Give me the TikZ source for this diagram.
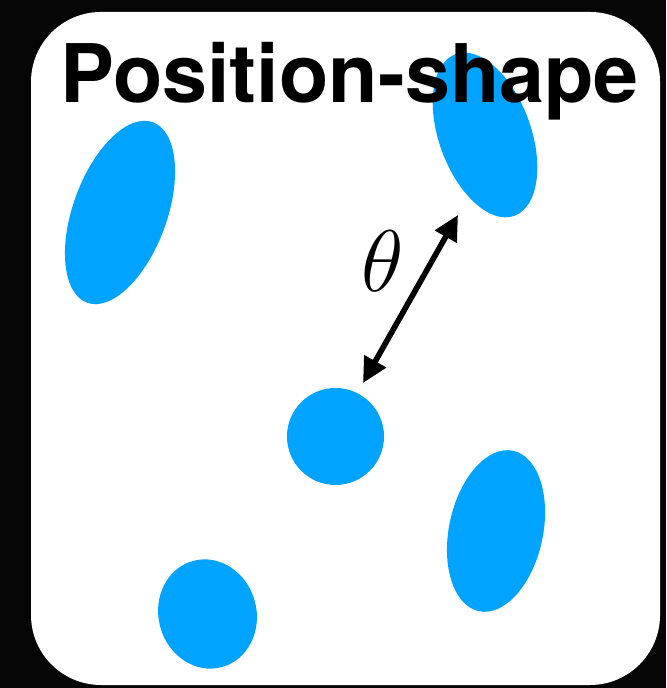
\documentclass[tikz,border=0pt]{standalone}
\usepackage{fontspec}
\setsansfont{TeX Gyre Heros}
\usetikzlibrary{arrows.meta, positioning, shapes.geometric}
\definecolor{cblue}{HTML}{00A3FF}
\definecolor{cnight}{HTML}{050505}
\tikzset{
  every picture/.style={font=\sffamily},
  panel/.style={fill=white, rounded corners=0.7cm},
  blob/.style={ellipse, fill=cblue, inner sep=0pt},
  title/.style={font=\sffamily\bfseries\fontsize{23}{27}\selectfont, inner sep=0pt},
  arrow/.style={{Triangle[length=0.25cm, width=0.24cm]}-{Triangle[length=0.25cm, width=0.24cm]}, line width=1.6pt},
  angle/.style={font=\fontsize{23}{27}\selectfont, inner sep=0pt},
}
\begin{document}
\begin{tikzpicture}
  \fill[cnight] (0,0) rectangle (6.66,6.88);
  \useasboundingbox (0,0) rectangle (6.66,6.88);
  \fill[panel] (0.31,0.03) rectangle (6.60,6.76);
  % galaxies
  \node[blob, minimum width=0.94cm, minimum height=1.92cm, rotate=-20] (galL) at (1.20,4.755) {};
  \node[blob, minimum width=0.92cm, minimum height=1.72cm, rotate=20] (galTR) at (4.85,5.53) {};
  \node[blob, circle, minimum size=0.97cm] (galC) at (3.355,2.515) {};
  \node[blob, minimum width=0.94cm, minimum height=1.64cm, rotate=-12] (galBR) at (4.96,1.57) {};
  \node[blob, minimum width=0.98cm, minimum height=1.10cm, rotate=15] (galBL) at (2.075,0.74) {};
  \node[title, anchor=base] (head) at (3.495,5.85) {Position-shape};
  % separation
  \coordinate (sepA) at (3.63,3.05);
  \coordinate (sepB) at (4.58,4.73);
  \draw[arrow] (sepA) -- (sepB);
  \node[angle] (theta) at (3.83,4.27) {$\theta$};
\end{tikzpicture}
\end{document}
